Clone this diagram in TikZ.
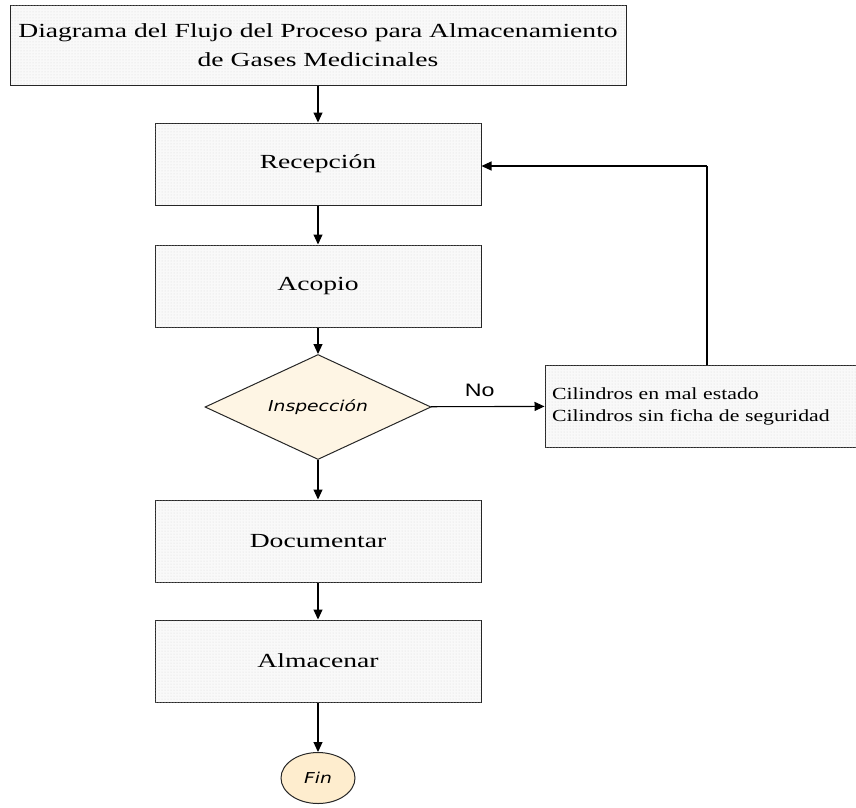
\documentclass[tikz,border=0pt]{standalone}
\usepackage{fontspec}
\setmainfont{Liberation Serif}
\newfontfamily\boxfont[FakeStretch=1.38]{Liberation Serif}
\newfontfamily\cilfont[FakeStretch=1.28]{Liberation Serif}
\newfontfamily\lsans[FakeStretch=1.29]{Liberation Sans}
\newfontfamily\insfont[FakeStretch=1.25]{DejaVu Sans}
\usetikzlibrary{shapes.geometric,arrows.meta,patterns}
\begin{document}
\begin{tikzpicture}[x=1pt,y=-1pt,
  procbox/.style={draw=black!85,line width=1pt,fill=gray!5,postaction={pattern=dots,pattern color=gray!30},minimum width=326pt,minimum height=82pt,inner sep=0pt,font=\boxfont\fontsize{20}{29}\selectfont},
  decbox/.style={diamond,aspect=2.15,draw=black!85,line width=1pt,fill=yellow!20!orange!9,minimum width=226pt,minimum height=105pt,inner sep=0pt},
  finbox/.style={ellipse,draw=black!85,line width=1pt,fill=yellow!25!orange!17,minimum width=74pt,minimum height=51pt,inner sep=0pt},
  conn/.style={line width=1.1pt,-{Triangle[length=10pt,width=9pt]}},
  plain/.style={line width=1.1pt}]
\useasboundingbox (0,0) rectangle (856,807);
\node[procbox,minimum width=616pt,minimum height=80pt,align=center] (title) at (318,45)
  {Diagrama del Flujo del Proceso para Almacenamiento\\de Gases Medicinales};
\node[procbox] (rec) at (318,164) {Recepción};
\node[procbox] (aco) at (318,286) {Acopio};
\node[decbox] (ins) at (318,407) {\insfont\itshape\fontsize{15}{17}\selectfont Inspección};
\node[procbox,minimum width=311pt,align=left,text width=297pt,font=\cilfont\fontsize{17}{22}\selectfont] (cil) at (700.5,406)
  {Cilindros en mal estado\\Cilindros sin ficha de seguridad};
\node[procbox] (doc) at (318,541) {Documentar};
\node[procbox] (alm) at (318,661) {Almacenar};
\node[finbox] (fin) at (318,778) {\insfont\itshape\fontsize{15}{17}\selectfont Fin};
\coordinate (c1) at (707,166);
\draw[conn] (title) -- (rec);
\draw[conn] (rec) -- (aco);
\draw[conn] (aco) -- (ins);
\draw[conn] (ins) -- node[above,pos=0.43,font=\lsans\fontsize{18}{20}\selectfont,inner sep=0pt,yshift=9pt] (no) {No} (cil);
\draw[conn] (ins) -- (doc);
\draw[conn] (doc) -- (alm);
\draw[conn] (alm) -- (fin);
\draw[plain] (cil.north -| c1) -- (c1);
\draw[conn] (c1) -- (rec.east |- c1);
\end{tikzpicture}
\end{document}
